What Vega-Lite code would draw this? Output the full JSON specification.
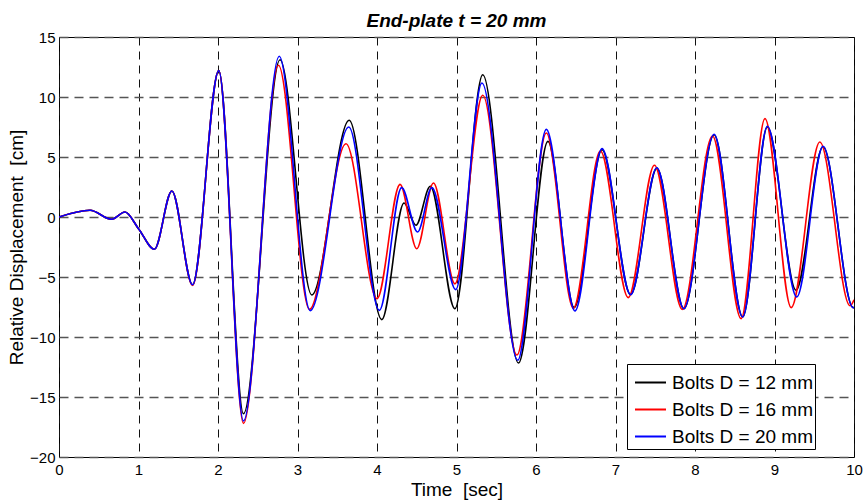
{
  "$schema": "https://vega.github.io/schema/vega-lite/v6.json",
  "autosize": {"type": "none"},
  "width": 795,
  "height": 420,
  "padding": {"left": 59, "top": 37, "right": 11, "bottom": 47},
  "background": "white",
  "title": {
    "text": "End-plate t = 20 mm",
    "font": "Liberation Sans",
    "fontSize": 19,
    "fontWeight": "bold",
    "fontStyle": "italic",
    "color": "black",
    "anchor": "middle",
    "frame": "group",
    "baseline": "alphabetic",
    "offset": 8,
    "dy": 24
  },
  "config": {
    "font": "Liberation Sans",
    "view": {"stroke": "black", "strokeWidth": 1},
    "axis": {
      "labelFont": "Liberation Sans",
      "labelFontSize": 15,
      "labelColor": "black",
      "titleFont": "Liberation Sans",
      "titleFontSize": 19,
      "titleFontWeight": "normal",
      "titleColor": "black",
      "domain": false,
      "ticks": false
    }
  },
  "data": {
    "values": [
      {"t": 0, "d": 0, "series": "Bolts D = 12 mm"},
      {"t": 0.39, "d": 0.56, "series": "Bolts D = 12 mm"},
      {"t": 0.66, "d": -0.19, "series": "Bolts D = 12 mm"},
      {"t": 0.83, "d": 0.42, "series": "Bolts D = 12 mm"},
      {"t": 1.0, "d": -0.97, "series": "Bolts D = 12 mm"},
      {"t": 1.2, "d": -2.69, "series": "Bolts D = 12 mm"},
      {"t": 1.42, "d": 2.17, "series": "Bolts D = 12 mm"},
      {"t": 1.68, "d": -5.65, "series": "Bolts D = 12 mm"},
      {"t": 2.01, "d": 12.2, "series": "Bolts D = 12 mm"},
      {"t": 2.32, "d": -16.4, "series": "Bolts D = 12 mm"},
      {"t": 2.78, "d": 13.1, "series": "Bolts D = 12 mm"},
      {"t": 3.18, "d": -6.5, "series": "Bolts D = 12 mm"},
      {"t": 3.65, "d": 8.06, "series": "Bolts D = 12 mm"},
      {"t": 4.06, "d": -8.55, "series": "Bolts D = 12 mm"},
      {"t": 4.34, "d": 1.17, "series": "Bolts D = 12 mm"},
      {"t": 4.49, "d": -0.69, "series": "Bolts D = 12 mm"},
      {"t": 4.67, "d": 2.56, "series": "Bolts D = 12 mm"},
      {"t": 4.98, "d": -7.64, "series": "Bolts D = 12 mm"},
      {"t": 5.33, "d": 11.86, "series": "Bolts D = 12 mm"},
      {"t": 5.78, "d": -12.17, "series": "Bolts D = 12 mm"},
      {"t": 6.15, "d": 6.3, "series": "Bolts D = 12 mm"},
      {"t": 6.48, "d": -7.55, "series": "Bolts D = 12 mm"},
      {"t": 6.83, "d": 5.6, "series": "Bolts D = 12 mm"},
      {"t": 7.19, "d": -6.47, "series": "Bolts D = 12 mm"},
      {"t": 7.52, "d": 4.05, "series": "Bolts D = 12 mm"},
      {"t": 7.86, "d": -7.64, "series": "Bolts D = 12 mm"},
      {"t": 8.24, "d": 6.85, "series": "Bolts D = 12 mm"},
      {"t": 8.6, "d": -8.33, "series": "Bolts D = 12 mm"},
      {"t": 8.91, "d": 7.5, "series": "Bolts D = 12 mm"},
      {"t": 9.27, "d": -6.1, "series": "Bolts D = 12 mm"},
      {"t": 9.61, "d": 5.85, "series": "Bolts D = 12 mm"},
      {"t": 9.99, "d": -7.55, "series": "Bolts D = 12 mm"},
      {"t": 10, "d": -7.53, "series": "Bolts D = 12 mm"},

      {"t": 0, "d": 0, "series": "Bolts D = 16 mm"},
      {"t": 0.39, "d": 0.56, "series": "Bolts D = 16 mm"},
      {"t": 0.66, "d": -0.19, "series": "Bolts D = 16 mm"},
      {"t": 0.83, "d": 0.42, "series": "Bolts D = 16 mm"},
      {"t": 1.0, "d": -0.97, "series": "Bolts D = 16 mm"},
      {"t": 1.2, "d": -2.69, "series": "Bolts D = 16 mm"},
      {"t": 1.42, "d": 2.17, "series": "Bolts D = 16 mm"},
      {"t": 1.68, "d": -5.7, "series": "Bolts D = 16 mm"},
      {"t": 2.01, "d": 12.2, "series": "Bolts D = 16 mm"},
      {"t": 2.32, "d": -17.2, "series": "Bolts D = 16 mm"},
      {"t": 2.76, "d": 12.64, "series": "Bolts D = 16 mm"},
      {"t": 3.15, "d": -7.7, "series": "Bolts D = 16 mm"},
      {"t": 3.61, "d": 6.11, "series": "Bolts D = 16 mm"},
      {"t": 4.0, "d": -6.8, "series": "Bolts D = 16 mm"},
      {"t": 4.29, "d": 2.72, "series": "Bolts D = 16 mm"},
      {"t": 4.5, "d": -2.64, "series": "Bolts D = 16 mm"},
      {"t": 4.71, "d": 2.83, "series": "Bolts D = 16 mm"},
      {"t": 4.98, "d": -5.56, "series": "Bolts D = 16 mm"},
      {"t": 5.33, "d": 10.14, "series": "Bolts D = 16 mm"},
      {"t": 5.76, "d": -11.5, "series": "Bolts D = 16 mm"},
      {"t": 6.13, "d": 7.0, "series": "Bolts D = 16 mm"},
      {"t": 6.47, "d": -7.6, "series": "Bolts D = 16 mm"},
      {"t": 6.81, "d": 5.5, "series": "Bolts D = 16 mm"},
      {"t": 7.16, "d": -6.72, "series": "Bolts D = 16 mm"},
      {"t": 7.49, "d": 4.31, "series": "Bolts D = 16 mm"},
      {"t": 7.84, "d": -7.7, "series": "Bolts D = 16 mm"},
      {"t": 8.22, "d": 6.75, "series": "Bolts D = 16 mm"},
      {"t": 8.58, "d": -8.47, "series": "Bolts D = 16 mm"},
      {"t": 8.88, "d": 8.2, "series": "Bolts D = 16 mm"},
      {"t": 9.21, "d": -7.55, "series": "Bolts D = 16 mm"},
      {"t": 9.57, "d": 6.25, "series": "Bolts D = 16 mm"},
      {"t": 9.95, "d": -7.4, "series": "Bolts D = 16 mm"},
      {"t": 10, "d": -6.9, "series": "Bolts D = 16 mm"},

      {"t": 0, "d": 0, "series": "Bolts D = 20 mm"},
      {"t": 0.39, "d": 0.56, "series": "Bolts D = 20 mm"},
      {"t": 0.66, "d": -0.19, "series": "Bolts D = 20 mm"},
      {"t": 0.83, "d": 0.42, "series": "Bolts D = 20 mm"},
      {"t": 1.0, "d": -0.97, "series": "Bolts D = 20 mm"},
      {"t": 1.2, "d": -2.69, "series": "Bolts D = 20 mm"},
      {"t": 1.42, "d": 2.17, "series": "Bolts D = 20 mm"},
      {"t": 1.68, "d": -5.65, "series": "Bolts D = 20 mm"},
      {"t": 2.01, "d": 12.2, "series": "Bolts D = 20 mm"},
      {"t": 2.32, "d": -17.0, "series": "Bolts D = 20 mm"},
      {"t": 2.77, "d": 13.39, "series": "Bolts D = 20 mm"},
      {"t": 3.16, "d": -7.8, "series": "Bolts D = 20 mm"},
      {"t": 3.645, "d": 7.5, "series": "Bolts D = 20 mm"},
      {"t": 4.03, "d": -7.78, "series": "Bolts D = 20 mm"},
      {"t": 4.31, "d": 2.45, "series": "Bolts D = 20 mm"},
      {"t": 4.51, "d": -1.25, "series": "Bolts D = 20 mm"},
      {"t": 4.69, "d": 2.45, "series": "Bolts D = 20 mm"},
      {"t": 4.99, "d": -6.05, "series": "Bolts D = 20 mm"},
      {"t": 5.32, "d": 11.17, "series": "Bolts D = 20 mm"},
      {"t": 5.77, "d": -11.94, "series": "Bolts D = 20 mm"},
      {"t": 6.13, "d": 7.3, "series": "Bolts D = 20 mm"},
      {"t": 6.49, "d": -7.83, "series": "Bolts D = 20 mm"},
      {"t": 6.83, "d": 5.7, "series": "Bolts D = 20 mm"},
      {"t": 7.19, "d": -6.47, "series": "Bolts D = 20 mm"},
      {"t": 7.52, "d": 4.11, "series": "Bolts D = 20 mm"},
      {"t": 7.86, "d": -7.64, "series": "Bolts D = 20 mm"},
      {"t": 8.24, "d": 6.89, "series": "Bolts D = 20 mm"},
      {"t": 8.6, "d": -8.33, "series": "Bolts D = 20 mm"},
      {"t": 8.91, "d": 7.56, "series": "Bolts D = 20 mm"},
      {"t": 9.28, "d": -6.67, "series": "Bolts D = 20 mm"},
      {"t": 9.61, "d": 5.89, "series": "Bolts D = 20 mm"},
      {"t": 9.99, "d": -7.55, "series": "Bolts D = 20 mm"},
      {"t": 10, "d": -7.53, "series": "Bolts D = 20 mm"}
    ]
  },
  "mark": {"type": "line", "interpolate": "monotone", "strokeWidth": 1.6, "clip": true},
  "encoding": {
    "x": {
      "field": "t",
      "type": "quantitative",
      "scale": {"domain": [0, 10], "nice": false, "zero": false},
      "axis": {
        "values": [0, 1, 2, 3, 4, 5, 6, 7, 8, 9, 10],
        "format": "d",
        "title": "Time \u00a0[sec]",
        "labelPadding": 5,
        "labelFlush": false,
        "titlePadding": 3,
        "grid": true,
        "gridColor": "#111111",
        "gridWidth": 1,
        "gridDash": [8, 6]
      }
    },
    "y": {
      "field": "d",
      "type": "quantitative",
      "scale": {"domain": [-20, 15], "nice": false, "zero": false},
      "axis": {
        "values": [-20, -15, -10, -5, 0, 5, 10, 15],
        "format": "d",
        "title": "Relative Displacement \u00a0[cm]",
        "labelPadding": 4,
        "labelFlush": false,
        "titleBaseline": "alphabetic",
        "titlePadding": 7,
        "grid": true,
        "gridColor": "#555555",
        "gridWidth": 1.3,
        "gridDash": [9, 6]
      }
    },
    "color": {
      "field": "series",
      "type": "nominal",
      "scale": {
        "domain": ["Bolts D = 12 mm", "Bolts D = 16 mm", "Bolts D = 20 mm"],
        "range": ["#000000", "#ff0000", "#0000ff"]
      },
      "legend": {
        "title": null,
        "orient": "none",
        "legendX": 568,
        "legendY": 327,
        "symbolType": "stroke",
        "symbolSize": 961,
        "symbolStrokeWidth": 2,
        "symbolOffset": 5,
        "labelFont": "Liberation Sans",
        "labelFontSize": 19,
        "labelColor": "black",
        "labelOffset": 5,
        "rowPadding": -7,
        "padding": 2,
        "strokeColor": "black",
        "fillColor": "white",
        "cornerRadius": 0
      }
    }
  }
}
